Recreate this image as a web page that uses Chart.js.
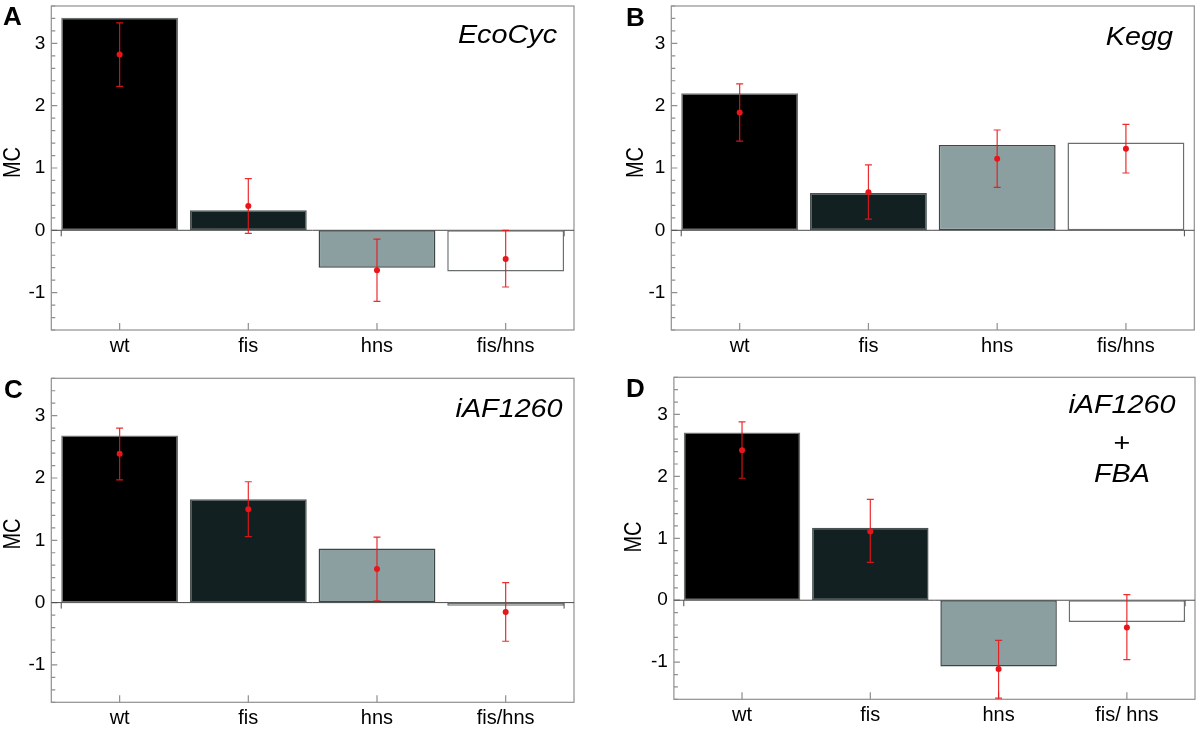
<!DOCTYPE html>
<html>
<head>
<meta charset="utf-8">
<script src="https://cdn.jsdelivr.net/npm/chart.js@4.4.1/dist/chart.umd.min.js"></script>
<style>
  html, body { margin: 0; padding: 0; background: #fff; }
  #wrap { position: relative; width: 1200px; height: 734px; overflow: hidden; }
  #wrap canvas { position: absolute; }
</style>
</head>
<body>
<div id="wrap">
  <canvas id="panelA" width="600" height="367" style="left:0;top:0"></canvas>
  <canvas id="panelB" width="600" height="367" style="left:600px;top:0"></canvas>
  <canvas id="panelC" width="600" height="367" style="left:0;top:367px"></canvas>
  <canvas id="panelD" width="600" height="367" style="left:600px;top:367px"></canvas>
</div>
<script>
// strains on the x axis
const strains = ['wt', 'fis', 'hns', 'fis/hns'];
const strainsD = ['wt', 'fis', 'hns', 'fis/ hns'];
const yTicks = [-1, 0, 1, 2, 3];

// A - EcoCyc
const ecoBars = [3.41, 0.32, -0.60, -0.66];
const ecoMeans = [2.82, 0.39, -0.64, -0.46];
const ecoErrHigh = [3.33, 0.83, -0.14, 0.00];
const ecoErrLow = [2.31, -0.05, -1.14, -0.91];

// B - Kegg
const keggBars = [2.20, 0.60, 1.37, 1.41];
const keggMeans = [1.89, 0.61, 1.15, 1.31];
const keggErrHigh = [2.35, 1.05, 1.61, 1.70];
const keggErrLow = [1.43, 0.18, 0.69, 0.92];

// C - iAF1260
const iafBars = [2.68, 1.66, 0.87, -0.05];
const iafMeans = [2.39, 1.50, 0.54, -0.15];
const iafErrHigh = [2.80, 1.94, 1.05, 0.32];
const iafErrLow = [1.97, 1.06, 0.03, -0.62];

// D - iAF1260 + FBA
const fbaBars = [2.71, 1.17, -1.07, -0.35];
const fbaMeans = [2.42, 1.11, -1.11, -0.44];
const fbaErrHigh = [2.88, 1.63, -0.65, 0.09];
const fbaErrLow = [1.97, 0.61, -1.58, -0.96];

const FONT = '"Liberation Sans", Arial, Helvetica, sans-serif';
Chart.defaults.font.family = FONT;

const barFill = ['#000000', '#122021', '#8c9fa0', '#ffffff'];
const barEdge = ['#6d7171', '#4a5252', '#3f4646', '#6a6e6e'];

// text in the source figure is a little wider than normal
function wideText(ctx, text, x, y, align, rotate) {
    ctx.save();
    ctx.translate(x, y);
    ctx.scale(1.15, 1);
    if (rotate) ctx.rotate(-Math.PI / 2);
    ctx.textAlign = align;
    ctx.fillText(text, 0, 0);
    ctx.restore();
}

const panelDecor = {
    id: 'panelDecor',
    beforeDatasetsDraw(chart) {
        const { ctx, chartArea: a, scales: { x, y } } = chart;
        const left = a.left - 4;
        const right = a.right + 4;
        ctx.save();
        ctx.strokeStyle = '#8f8f8f';
        ctx.lineWidth = 1.2;
        ctx.strokeRect(left, a.top, right - left, a.bottom - a.top);

        ctx.beginPath();
        for (let i = Math.round(y.min * 5); i <= Math.round(y.max * 5); i++) {
            const py = y.getPixelForValue(i / 5);
            ctx.moveTo(left, py);
            ctx.lineTo(left + (i % 5 === 0 ? 6 : 4), py);
        }
        x.ticks.forEach((t, i) => {
            const px = x.getPixelForTick(i);
            ctx.moveTo(px, a.bottom);
            ctx.lineTo(px, a.bottom - 7);
        });
        ctx.stroke();

        // zero line with the little end ticks
        const z = y.getPixelForValue(0);
        const bars = chart.getDatasetMeta(0).data;
        const x0 = bars[0].x - bars[0].width / 2;
        const x1 = bars[bars.length - 1].x + bars[bars.length - 1].width / 2;
        ctx.strokeStyle = '#4a4a4a';
        ctx.lineWidth = 1;
        ctx.beginPath();
        ctx.moveTo(left, z);
        ctx.lineTo(right, z);
        ctx.moveTo(x0, z);
        ctx.lineTo(x0, z + 6);
        ctx.moveTo(x1, z);
        ctx.lineTo(x1, z + 6);
        ctx.stroke();
        ctx.restore();
    },
    afterDatasetDraw(chart, args, opts) {
        if (args.index !== 0) return;
        const { ctx, scales: { x, y } } = chart;
        ctx.save();
        ctx.strokeStyle = 'rgba(232, 22, 26, 0.9)';
        ctx.lineWidth = 1.2;
        ctx.beginPath();
        opts.errHigh.forEach((hi, i) => {
            const px = x.getPixelForValue(i);
            const top = y.getPixelForValue(hi);
            const bottom = y.getPixelForValue(opts.errLow[i]);
            ctx.moveTo(px, top);
            ctx.lineTo(px, bottom);
            ctx.moveTo(px - 3.5, top);
            ctx.lineTo(px + 3.5, top);
            ctx.moveTo(px - 3.5, bottom);
            ctx.lineTo(px + 3.5, bottom);
        });
        ctx.stroke();
        ctx.restore();
    },
    afterDraw(chart, args, opts) {
        const { ctx } = chart;
        ctx.save();
        ctx.fillStyle = '#000';
        ctx.textBaseline = 'alphabetic';
        ctx.font = 'bold 26px ' + FONT;
        ctx.textAlign = 'left';
        ctx.fillText(opts.letter[0], opts.letter[1], opts.letter[2]);

        ctx.font = '20px ' + FONT;
        ctx.textBaseline = 'middle';
        wideText(ctx, 'MC', opts.mc[0], opts.mc[1], 'center', true);

        ctx.textBaseline = 'alphabetic';
        opts.titles.forEach(t => {
            ctx.font = (t.plain ? '' : 'italic ') + '25px ' + FONT;
            wideText(ctx, t.text, t.x, t.y, t.align);
        });
        ctx.restore();
    }
};

function buildPanel(id, p) {
    return new Chart(document.getElementById(id), {
        type: 'bar',
        data: {
            labels: p.labels,
            datasets: [{
                data: p.bars,
                backgroundColor: barFill,
                borderColor: barEdge,
                borderWidth: 1.5,
                borderSkipped: false,
                barPercentage: 0.908,
                categoryPercentage: 1,
                order: 2
            }, {
                type: 'line',
                data: p.means,
                showLine: false,
                pointRadius: 3,
                pointBackgroundColor: '#e8151b',
                pointBorderWidth: 0,
                order: 1
            }]
        },
        options: {
            responsive: false,
            animation: false,
            devicePixelRatio: 1,
            layout: {
                autoPadding: false,
                padding: { left: 0, top: p.top, right: 600 - p.right, bottom: 0 }
            },
            plugins: {
                legend: { display: false },
                tooltip: { enabled: false },
                panelDecor: {
                    errHigh: p.errHigh,
                    errLow: p.errLow,
                    letter: p.letter,
                    mc: p.mc,
                    titles: p.titles
                }
            },
            scales: {
                x: {
                    offset: true,
                    grid: { display: false, drawTicks: false },
                    border: { display: false },
                    ticks: { color: '#000', font: { size: 20 }, padding: 4, maxRotation: 0, autoSkip: false },
                    afterFit: s => {
                        s.height = 367 - p.bottom;
                        s.paddingLeft = 0;
                        s.paddingRight = 0;
                    }
                },
                y: {
                    min: -1.6,
                    max: 3.6,
                    afterBuildTicks: s => { s.ticks = yTicks.map(v => ({ value: v })); },
                    grid: { display: false, drawTicks: false },
                    border: { display: false },
                    ticks: { color: '#000', font: { size: 19 }, padding: 10 },
                    afterFit: s => {
                        s.width = p.left;
                        s.paddingTop = 0;
                        s.paddingBottom = 0;
                    }
                }
            }
        },
        plugins: [panelDecor]
    });
}

buildPanel('panelA', {
    labels: strains, bars: ecoBars, means: ecoMeans, errHigh: ecoErrHigh, errLow: ecoErrLow,
    left: 55.3, right: 570, top: 6, bottom: 330,
    letter: ['A', 3, 25], mc: [13.4, 162.5],
    titles: [{ text: 'EcoCyc', x: 557, y: 43, align: 'right' }]
});

buildPanel('panelB', {
    labels: strains, bars: keggBars, means: keggMeans, errHigh: keggErrHigh, errLow: keggErrLow,
    left: 75.3, right: 590.3, top: 6, bottom: 330,
    letter: ['B', 26, 26], mc: [37, 162.5],
    titles: [{ text: 'Kegg', x: 573, y: 45, align: 'right' }]
});

buildPanel('panelC', {
    labels: strains, bars: iafBars, means: iafMeans, errHigh: iafErrHigh, errLow: iafErrLow,
    left: 55.3, right: 570, top: 11.3, bottom: 335.3,
    letter: ['C', 4, 31], mc: [13.4, 167],
    titles: [{ text: 'iAF1260', x: 562.6, y: 49.5, align: 'right' }]
});

buildPanel('panelD', {
    labels: strainsD, bars: fbaBars, means: fbaMeans, errHigh: fbaErrHigh, errLow: fbaErrLow,
    left: 77.9, right: 591, top: 10.3, bottom: 332.3,
    letter: ['D', 26, 30], mc: [34.4, 170],
    titles: [
        { text: 'iAF1260', x: 522, y: 46, align: 'center' },
        { text: '+', x: 522, y: 84, align: 'center', plain: true },
        { text: 'FBA', x: 522, y: 115, align: 'center' }
    ]
});
</script>
</body>
</html>
